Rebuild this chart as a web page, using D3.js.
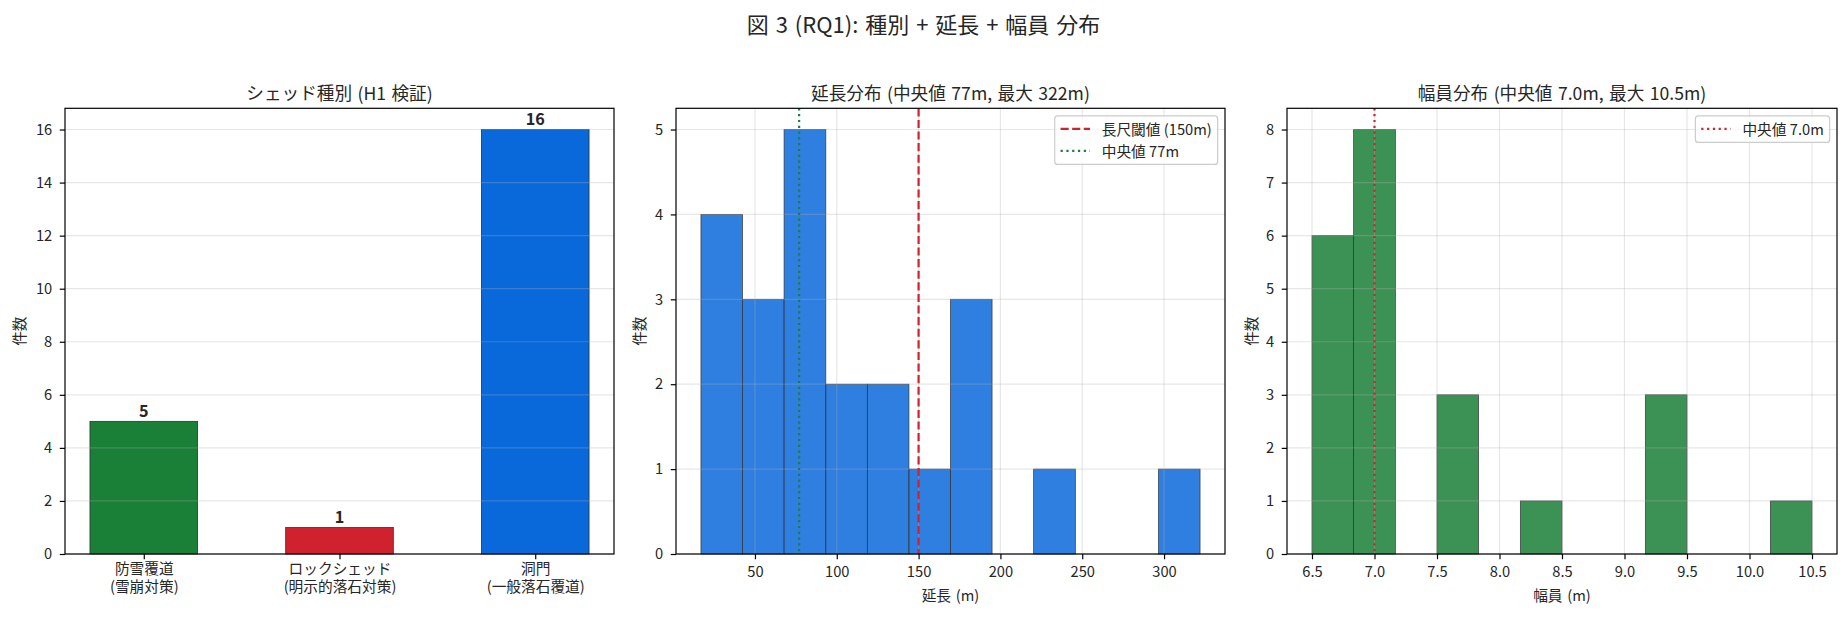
<!DOCTYPE html>
<html>
<head>
<meta charset="utf-8">
<script src="https://cdn.jsdelivr.net/npm/d3@7"></script>
<style>
  body { margin: 0; background: #fff; }
  text { font-family: "Noto Sans CJK JP", "Noto Sans", sans-serif; fill: #262626; }
</style>
</head>
<body>
<svg id="fig" width="1847" height="617"></svg>
<script>
// ---- data ----
const shedTypes = ['防雪覆道\n(雪崩対策)', 'ロックシェッド\n(明示的落石対策)', '洞門\n(一般落石覆道)'];
const shedCounts = [5, 1, 16];
const shedColors = ['#1a7f37', '#cf222e', '#0969da'];
const shedTicks = [0, 2, 4, 6, 8, 10, 12, 14, 16];

const lengthBinEdges = [17, 42.4, 67.8, 93.3, 118.7, 144.1, 169.5, 194.9, 220.3, 245.8, 271.2, 296.6, 322];
const lengthCounts = [4, 3, 5, 2, 2, 1, 3, 0, 1, 0, 0, 1];
const lengthTicks = [50, 100, 150, 200, 250, 300];
const lengthCountTicks = [0, 1, 2, 3, 4, 5];
const lengthThreshold = 150;
const lengthMedian = 77;

const widthBinEdges = [6.5, 6.833, 7.167, 7.5, 7.833, 8.167, 8.5, 8.833, 9.167, 9.5, 9.833, 10.167, 10.5];
const widthCounts = [6, 8, 0, 3, 0, 1, 0, 0, 3, 0, 0, 1];
const widthTicks = [6.5, 7.0, 7.5, 8.0, 8.5, 9.0, 9.5, 10.0, 10.5];
const widthCountTicks = [0, 1, 2, 3, 4, 5, 6, 7, 8];
const widthMedian = 7.0;

// ---- layout ----
const F = 14.7;            // base font (10pt)
const plotTop = 108.3, plotBottom = 554;
const panels = [
  { x0: 65, x1: 614, ylab: 18.7 },
  { x0: 676, x1: 1225, ylab: 638 },
  { x0: 1287, x1: 1837, ylab: 1250 }
];
const barWidth = 0.55;
const gridColor = '#b0b0b0';

const svg = d3.select('#fig');

svg.append('text')
  .attr('x', 923.5).attr('y', 33)
  .attr('text-anchor', 'middle')
  .style('font-size', '22px')
  .style('word-spacing', '2px')
  .text('図 3 (RQ1): 種別 + 延長 + 幅員 分布');

function pad(lo, hi) {
  const m = (hi - lo) * 0.05;
  return [lo - m, hi + m];
}

function frame(g, p, x, y, opts) {
  // grid (drawn above bars, like matplotlib default)
  const grid = g.append('g');
  grid.selectAll('line.gy')
    .data(opts.yTicks)
    .enter().append('line')
      .attr('x1', p.x0).attr('x2', p.x1)
      .attr('y1', d => y(d)).attr('y2', d => y(d))
      .attr('stroke', gridColor).attr('stroke-opacity', 0.3).attr('stroke-width', 1.2);
  if (opts.xGrid) {
    grid.selectAll('line.gx')
      .data(opts.xTicks)
      .enter().append('line')
        .attr('y1', plotTop).attr('y2', plotBottom)
        .attr('x1', d => x(d)).attr('x2', d => x(d))
        .attr('stroke', gridColor).attr('stroke-opacity', 0.3).attr('stroke-width', 1.2);
  }
}

function axesAndLabels(g, p, x, y, opts) {
  const xAxis = g.append('g')
    .attr('transform', `translate(0,${plotBottom})`)
    .call(d3.axisBottom(x).tickValues(opts.xTicks).tickSize(5.25).tickPadding(7.5)
      .tickFormat(opts.xFormat || (d => d)));
  const yAxis = g.append('g')
    .attr('transform', `translate(${p.x0},0)`)
    .call(d3.axisLeft(y).tickValues(opts.yTicks).tickSize(5.25).tickPadding(7.5).tickFormat(d3.format('d')));
  [xAxis, yAxis].forEach(a => {
    a.select('.domain').remove();
    a.selectAll('.tick line').attr('stroke', '#000').attr('stroke-width', 1.2);
    a.selectAll('.tick text').style('font-size', F + 'px').attr('fill', '#262626');
  });

  // spines
  g.append('rect')
    .attr('x', p.x0).attr('y', plotTop)
    .attr('width', p.x1 - p.x0).attr('height', plotBottom - plotTop)
    .attr('fill', 'none').attr('stroke', '#000').attr('stroke-width', 1.2);

  g.append('text')
    .attr('x', (p.x0 + p.x1) / 2).attr('y', 99.5)
    .attr('text-anchor', 'middle')
    .style('font-size', (F * 1.2) + 'px')
    .style('word-spacing', '1.5px')
    .text(opts.title);

  g.append('text')
    .attr('transform', `translate(${p.ylab},${(plotTop + plotBottom) / 2}) rotate(-90)`)
    .attr('text-anchor', 'middle')
    .attr('dominant-baseline', 'central')
    .style('font-size', F + 'px')
    .text('件数');

  if (opts.xLabel) {
    g.append('text')
      .attr('x', (p.x0 + p.x1) / 2).attr('y', 601)
      .attr('text-anchor', 'middle')
      .style('font-size', F + 'px')
      .style('word-spacing', '1.5px')
      .text(opts.xLabel);
  }
  return xAxis;
}

function vline(g, x, value, color, dash) {
  g.append('line')
    .attr('x1', x(value)).attr('x2', x(value))
    .attr('y1', plotTop).attr('y2', plotBottom)
    .attr('stroke', color).attr('stroke-width', 2.2)
    .attr('stroke-dasharray', dash);
}

function legend(g, p, items) {
  const em = F;
  const lg = g.append('g');
  const box = lg.append('rect');
  const rowH = em * 1.5;
  const texts = [];
  items.forEach((it, i) => {
    const cy = plotTop + 7.35 + 5.9 + em / 2 + i * rowH;
    lg.append('line')
      .attr('class', 'hl')
      .attr('y1', cy).attr('y2', cy)
      .attr('stroke', it.color).attr('stroke-width', 2.2)
      .attr('stroke-dasharray', it.dash);
    texts.push(lg.append('text')
      .attr('y', cy)
      .attr('dominant-baseline', 'central')
      .style('font-size', em + 'px')
      .text(it.label));
  });
  const tw = d3.max(texts, t => t.node().getComputedTextLength());
  const w = 0.4 * em + 2 * em + 0.8 * em + tw + 0.4 * em;
  const h = 0.8 * em + items.length * em + (items.length - 1) * 0.5 * em;
  const bx = p.x1 - 0.5 * em - w, by = plotTop + 0.5 * em + 0.3;
  box.attr('x', bx).attr('y', by).attr('width', w).attr('height', h)
    .attr('rx', 3).attr('fill', '#fff').attr('fill-opacity', 0.8)
    .attr('stroke', '#cccccc').attr('stroke-width', 1.2);
  lg.selectAll('line.hl')
    .attr('x1', bx + 0.4 * em).attr('x2', bx + 2.4 * em);
  texts.forEach(t => t.attr('x', bx + 3.2 * em));
}

// ---- panel 1: shed types ----
{
  const p = panels[0];
  const x = d3.scaleLinear()
    .domain(pad(-barWidth / 2, shedTypes.length - 1 + barWidth / 2))
    .range([p.x0, p.x1]);
  const y = d3.scaleLinear().domain([0, d3.max(shedCounts) * 1.05]).range([plotBottom, plotTop]);
  const g = svg.append('g');

  g.selectAll('rect.bar')
    .data(shedCounts)
    .enter().append('rect')
      .attr('class', 'bar')
      .attr('x', (d, i) => x(i - barWidth / 2))
      .attr('width', (d, i) => x(i + barWidth / 2) - x(i - barWidth / 2))
      .attr('y', d => y(d))
      .attr('height', d => y(0) - y(d))
      .attr('fill', (d, i) => shedColors[i])
      .attr('stroke', '#333').attr('stroke-width', 0.8);

  frame(g, p, x, y, { yTicks: shedTicks, xTicks: [] });

  g.selectAll('text.val')
    .data(shedCounts)
    .enter().append('text')
      .attr('class', 'val')
      .attr('x', (d, i) => x(i))
      .attr('y', d => y(d) - 4.5)
      .attr('text-anchor', 'middle')
      .style('font-size', '16.2px').style('font-weight', 'bold')
      .attr('fill', '#000')
      .text(d => d);

  const xAxis = axesAndLabels(g, p, x, y, {
    xTicks: d3.range(shedTypes.length),
    yTicks: shedTicks,
    xFormat: i => shedTypes[i],
    title: 'シェッド種別 (H1 検証)'
  });
  xAxis.selectAll('.tick text').each(function (i) {
    const t = d3.select(this);
    const lines = shedTypes[i].split('\n');
    t.text(null).attr('dy', null).attr('y', 0);
    lines.forEach((ln, k) => {
      t.append('tspan').attr('x', 0).attr('y', 19.8 + k * 17.8).text(ln);
    });
  });
}

// ---- panel 2: length histogram ----
{
  const p = panels[1];
  const x = d3.scaleLinear()
    .domain(pad(lengthBinEdges[0], lengthBinEdges[lengthBinEdges.length - 1]))
    .range([p.x0, p.x1]);
  const y = d3.scaleLinear().domain([0, d3.max(lengthCounts) * 1.05]).range([plotBottom, plotTop]);
  const g = svg.append('g');
  const bins = lengthCounts.map((c, i) => ({ x0: lengthBinEdges[i], x1: lengthBinEdges[i + 1], c }))
    .filter(b => b.c > 0);

  g.selectAll('rect.bar')
    .data(bins)
    .enter().append('rect')
      .attr('class', 'bar')
      .attr('x', d => x(d.x0))
      .attr('width', d => x(d.x1) - x(d.x0))
      .attr('y', d => y(d.c))
      .attr('height', d => y(0) - y(d.c))
      .attr('fill', '#0969da').attr('fill-opacity', 0.85)
      .attr('stroke', '#333').attr('stroke-opacity', 0.85).attr('stroke-width', 0.8);

  frame(g, p, x, y, { yTicks: lengthCountTicks, xTicks: lengthTicks, xGrid: true });
  vline(g, x, lengthThreshold, '#cf222e', '8.1,3.5');
  vline(g, x, lengthMedian, '#1a7f37', '2.2,3.6');

  axesAndLabels(g, p, x, y, {
    xTicks: lengthTicks,
    yTicks: lengthCountTicks,
    title: '延長分布 (中央値 77m, 最大 322m)',
    xLabel: '延長 (m)'
  });
  legend(g, p, [
    { label: '長尺閾値 (150m)', color: '#cf222e', dash: '8.1,3.5' },
    { label: '中央値 77m', color: '#1a7f37', dash: '2.2,3.6' }
  ]);
}

// ---- panel 3: width histogram ----
{
  const p = panels[2];
  const x = d3.scaleLinear()
    .domain(pad(widthBinEdges[0], widthBinEdges[widthBinEdges.length - 1]))
    .range([p.x0, p.x1]);
  const y = d3.scaleLinear().domain([0, d3.max(widthCounts) * 1.05]).range([plotBottom, plotTop]);
  const g = svg.append('g');
  const bins = widthCounts.map((c, i) => ({ x0: widthBinEdges[i], x1: widthBinEdges[i + 1], c }))
    .filter(b => b.c > 0);

  g.selectAll('rect.bar')
    .data(bins)
    .enter().append('rect')
      .attr('class', 'bar')
      .attr('x', d => x(d.x0))
      .attr('width', d => x(d.x1) - x(d.x0))
      .attr('y', d => y(d.c))
      .attr('height', d => y(0) - y(d.c))
      .attr('fill', '#1a7f37').attr('fill-opacity', 0.85)
      .attr('stroke', '#333').attr('stroke-opacity', 0.85).attr('stroke-width', 0.8);

  frame(g, p, x, y, { yTicks: widthCountTicks, xTicks: widthTicks, xGrid: true });
  vline(g, x, widthMedian, '#cf222e', '2.2,3.6');

  axesAndLabels(g, p, x, y, {
    xTicks: widthTicks,
    yTicks: widthCountTicks,
    xFormat: d3.format('.1f'),
    title: '幅員分布 (中央値 7.0m, 最大 10.5m)',
    xLabel: '幅員 (m)'
  });
  legend(g, p, [
    { label: '中央値 7.0m', color: '#cf222e', dash: '2.2,3.6' }
  ]);
}
</script>
</body>
</html>
